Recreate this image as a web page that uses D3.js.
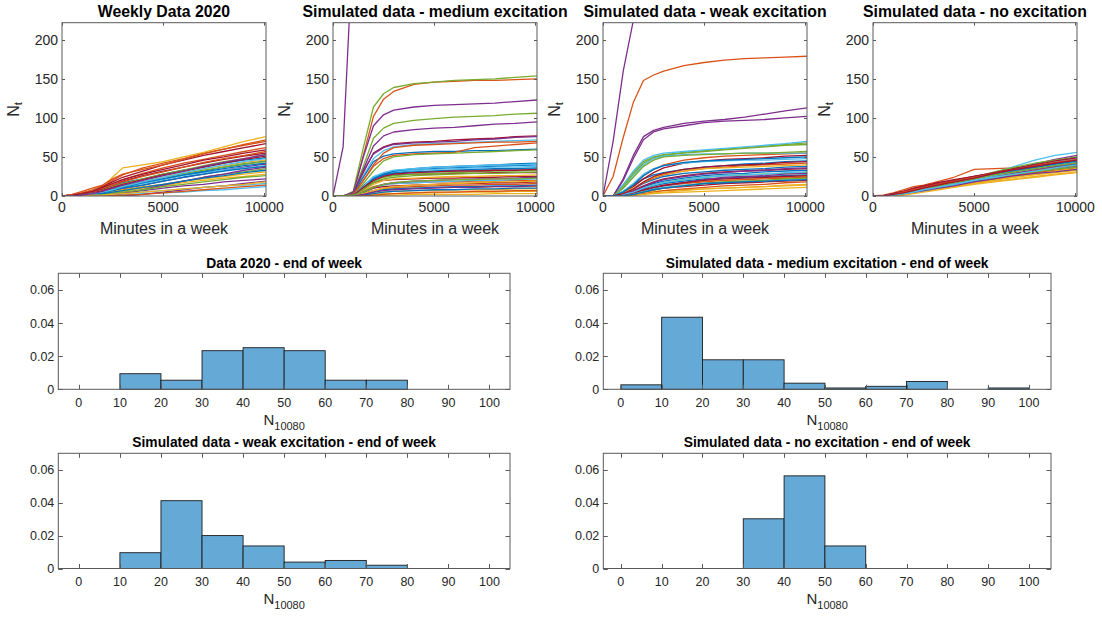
<!DOCTYPE html>
<html>
<head>
<meta charset="utf-8">
<script src="https://cdn.jsdelivr.net/npm/d3@7"></script>
<style>
  html, body { margin: 0; padding: 0; background: #ffffff; }
  svg { display: block; }
</style>
</head>
<body>
<svg id="chart" width="1102" height="619"></svg>
<script>
// ---------------- DATA ----------------
const minutes = [0, 500, 1000, 1500, 2000, 2500, 3000, 4000, 5000, 6000, 7000, 8000, 9000, 10080];

const weeklyData2020 = [
  [0,0,2,4,7,10,13,18,22,27,32,37,41,45],
  [0,1,4,8,13,20,27,36,42,48,55,60,66,72],
  [0,1,3,7,12,24,36,40,44,50,56,63,70,76],
  [0,0,1,2,4,6,9,14,19,24,28,33,37,41],
  [0,0,0,1,3,5,7,11,15,19,24,28,31,35],
  [0,0,0,0,1,1,2,3,4,5,7,8,10,12],
  [0,1,3,6,12,18,24,32,40,46,52,57,62,67],
  [0,0,2,5,9,13,17,22,28,33,37,42,46,49],
  [0,1,4,7,11,16,21,29,36,42,47,52,57,62],
  [0,0,1,2,4,6,8,12,15,19,22,25,28,31],
  [0,0,0,0,0,0,0,2,5,8,11,13,16,19],
  [0,0,2,4,8,12,16,22,28,33,39,44,48,53],
  [0,0,1,3,5,8,11,16,21,26,30,33,36,39],
  [0,1,3,5,9,14,19,26,32,37,42,47,51,55],
  [0,0,1,2,4,7,10,14,19,24,28,32,35,38],
  [0,2,6,10,14,22,28,34,40,47,54,60,65,70],
  [0,0,2,4,7,11,15,21,26,31,35,39,43,46],
  [0,0,0,1,2,3,4,7,10,13,15,18,20,22],
  [0,0,1,3,6,9,13,18,24,29,33,37,41,44],
  [0,0,0,0,1,2,3,5,7,9,11,13,14,16],
  [0,0,2,4,7,11,15,21,27,32,37,42,47,51],
  [0,0,1,3,5,8,11,17,22,27,31,35,39,42],
  [0,1,3,6,10,14,18,25,31,37,43,48,52,57],
  [0,0,0,1,2,4,6,10,13,17,20,23,25,28],
  [0,0,0,0,0,1,3,8,14,19,24,28,33,37],
  [0,0,0,1,2,4,5,8,12,15,18,21,24,26],
  [0,0,1,3,5,8,12,18,24,30,35,40,44,48],
  [0,1,3,6,11,16,21,28,34,40,46,50,55,59],
  [0,0,0,1,3,5,7,11,15,19,23,26,30,33],
  [0,0,0,0,0,0,1,2,4,6,8,10,12,14],
  [0,0,0,1,1,2,3,5,7,9,11,13,15,18],
  [0,0,1,3,6,10,14,20,26,32,38,43,48,53]
];

const mediumExcitation = [
  [0,0,2,12,24,28,30,33,35,36,37,38,39,40],
  [0,0,4,52,102,124,134,143,146,147,148,148,149,150],
  [0,0,0,1,2,3,3,4,4,5,5,5,6,6],
  [0,63,330,420,480,520,550,600,640,670,700,720,740,760],
  [0,0,6,62,114,131,139,144,146,148,149,150,152,154],
  [0,0,3,26,48,58,63,66,67,68,69,70,71,72],
  [0,0,4,30,55,63,67,69,70,72,73,74,76,77],
  [0,0,3,24,44,51,54,56,57,57,58,58,59,60],
  [0,0,2,20,38,48,52,54,55,56,62,64,66,68],
  [0,0,1,4,7,9,10,10,11,11,11,12,12,12],
  [0,0,5,50,90,104,110,114,116,117,118,119,121,123],
  [0,0,4,38,74,87,93,97,99,101,102,103,105,106],
  [0,0,1,13,24,29,31,33,34,35,36,37,37,38],
  [0,0,1,13,22,26,27,28,28,29,29,30,30,30],
  [0,0,1,10,22,28,32,35,37,38,39,40,41,42],
  [0,0,1,6,12,15,16,17,18,18,19,19,20,20],
  [0,0,0,1,3,5,6,7,7,8,8,8,9,9],
  [0,0,3,34,64,77,82,85,87,88,90,92,93,95],
  [0,0,2,16,32,45,50,53,54,55,56,57,58,59],
  [0,0,1,8,18,25,28,30,31,32,33,34,34,35],
  [0,0,1,10,17,20,21,22,23,23,24,24,25,25],
  [0,0,1,12,22,27,29,31,32,33,34,35,35,36],
  [0,0,0,3,7,10,11,12,13,14,14,15,15,16],
  [0,0,1,7,15,20,22,23,24,25,25,26,26,27],
  [0,0,4,32,54,62,66,68,69,70,72,73,75,76],
  [0,0,1,10,19,24,26,28,29,30,31,32,32,33],
  [0,0,0,4,10,14,16,17,18,19,20,20,21,22],
  [0,0,1,5,10,12,13,14,15,16,16,17,17,18],
  [0,0,0,2,5,8,9,10,11,12,12,13,13,14],
  [0,0,2,20,40,55,62,65,66,67,68,69,69,70],
  [0,0,0,0,1,1,1,2,2,2,2,3,3,3],
  [0,0,1,5,11,15,17,19,20,21,22,22,23,24],
  [0,0,1,8,17,22,24,26,27,28,29,29,30,31],
  [0,0,1,12,25,30,33,35,37,38,39,40,40,41],
  [0,0,1,11,20,25,28,30,31,32,32,33,33,34],
  [0,0,0,1,3,5,6,7,8,8,9,9,10,10],
  [0,0,0,0,1,2,3,4,5,5,6,6,7,7],
  [0,0,0,3,7,10,12,14,15,16,17,18,18,19],
  [0,0,0,2,5,7,8,9,10,11,11,12,12,13],
  [0,0,1,5,11,15,17,19,20,21,21,22,22,23]
];

const weakExcitation = [
  [0,0,6,14,22,27,30,34,37,39,41,42,44,45],
  [0,25,75,120,148,155,160,167,171,174,176,177,178,179],
  [0,0,1,3,5,6,7,8,9,10,11,12,13,14],
  [0,70,160,225,280,320,350,400,440,470,500,520,540,560],
  [0,0,14,30,44,50,53,56,58,60,62,64,66,68],
  [0,0,15,32,46,52,55,57,59,61,63,65,67,70],
  [0,0,4,12,22,30,36,42,45,47,48,49,51,52],
  [0,0,3,9,16,21,25,29,31,33,34,35,37,38],
  [0,0,5,14,26,34,40,46,49,51,52,53,54,55],
  [0,0,1,4,8,11,14,17,19,20,21,23,24,25],
  [0,0,22,52,76,84,88,93,96,98,101,105,109,113],
  [0,0,12,28,42,49,52,55,57,59,61,63,65,66],
  [0,0,10,25,40,48,51,53,54,54,55,55,55,55],
  [0,0,1,3,6,8,10,12,14,16,17,18,19,20],
  [0,0,2,6,12,16,19,23,26,28,29,31,32,33],
  [0,0,3,9,17,23,27,32,35,37,39,40,41,42],
  [0,0,0,1,2,3,4,5,6,7,8,9,10,11],
  [0,0,20,48,72,82,86,90,94,96,97,98,100,102],
  [0,0,1,5,10,14,17,21,24,26,27,28,29,30],
  [0,0,6,16,28,35,39,42,44,45,46,46,47,48],
  [0,0,2,7,13,18,22,26,29,31,32,33,34,35],
  [0,0,1,4,9,13,16,19,22,23,24,25,26,27],
  [0,0,1,3,7,10,13,16,18,20,21,22,23,24],
  [0,0,4,10,18,24,28,32,35,36,37,38,39,40],
  [0,0,0,2,6,10,13,17,21,24,25,26,28,29],
  [0,0,10,24,38,46,50,52,53,54,55,55,56,57],
  [0,0,1,3,6,9,11,14,16,18,19,20,21,22],
  [0,0,1,4,8,11,14,17,20,22,23,24,25,26],
  [0,0,5,14,26,34,39,43,45,46,47,48,49,50],
  [0,0,0,1,3,5,7,9,11,13,14,15,17,18],
  [0,0,0,1,2,4,5,7,9,10,11,12,14,15],
  [0,0,2,6,12,17,21,25,28,30,32,33,35,36],
  [0,0,0,2,5,8,10,13,16,18,19,20,22,23],
  [0,0,2,5,10,14,17,21,24,26,27,28,30,31],
  [0,0,3,9,18,25,29,34,37,39,40,41,43,44],
  [0,0,0,2,5,8,10,13,16,17,18,19,20,21]
];

const noExcitation = [
  [0,0,2,4,7,9,12,17,22,27,32,37,41,46],
  [0,1,4,8,12,14,17,24,34,35,36,38,41,44],
  [0,0,1,3,5,7,9,13,16,19,22,25,28,31],
  [0,0,2,4,6,8,11,15,19,24,28,32,36,40],
  [0,0,1,3,5,8,11,16,22,30,36,40,44,47],
  [0,0,2,5,8,11,14,19,24,30,38,46,52,56],
  [0,0,3,6,9,12,15,20,24,28,32,36,40,43],
  [0,0,1,3,5,7,10,14,18,22,26,30,34,38],
  [0,0,2,4,6,9,11,15,19,23,27,30,33,36],
  [0,0,1,2,4,6,8,12,16,20,24,27,30,33],
  [0,0,2,5,8,11,14,19,25,30,35,41,47,52],
  [0,0,1,3,6,9,12,18,24,31,37,42,46,50],
  [0,0,1,3,6,8,11,16,21,27,33,38,44,48],
  [0,0,3,6,10,13,16,21,25,29,34,38,42,45],
  [0,0,1,2,4,6,9,14,19,24,29,33,37,41],
  [0,0,2,5,8,10,13,18,22,26,30,33,36,39],
  [0,0,0,2,4,6,9,13,17,21,25,28,32,35],
  [0,0,1,4,6,9,12,17,21,25,29,34,38,42],
  [0,0,1,3,5,7,10,15,20,24,28,31,34,37],
  [0,0,1,2,4,6,9,14,20,26,31,35,40,44],
  [0,0,2,5,9,12,15,20,25,30,35,40,45,49],
  [0,0,2,4,7,10,13,18,23,28,33,37,41,45],
  [0,0,2,5,8,11,14,19,24,29,34,39,43,47],
  [0,0,0,1,3,5,7,11,15,18,21,24,27,30],
  [0,0,1,3,5,7,9,13,18,22,26,29,31,34],
  [0,0,1,3,6,9,12,17,22,27,31,35,39,42],
  [0,0,1,3,5,8,10,15,20,24,28,32,36,40],
  [0,0,2,4,7,10,13,18,23,29,34,38,42,46]
];

const lineTitles = ["Weekly Data 2020", "Simulated data - medium excitation", "Simulated data - weak excitation", "Simulated data - no excitation"];
const lineXTicks = [0, 5000, 10000];
const lineYTicks = [0, 50, 100, 150, 200];

const histEdges = [0, 10, 20, 30, 40, 50, 60, 70, 80, 90, 100];
const histData2020 = [0, 0.0094, 0.0055, 0.0233, 0.0251, 0.0233, 0.0055, 0.0055, 0, 0];
const histMedium   = [0.0027, 0.0435, 0.0178, 0.0178, 0.0037, 0.0008, 0.0018, 0.0047, 0, 0.0008];
const histWeak     = [0, 0.0096, 0.0412, 0.0200, 0.0137, 0.0039, 0.0049, 0.0020, 0, 0];
const histNone     = [0, 0, 0, 0.0302, 0.0563, 0.0137, 0, 0, 0, 0];
const histTitles = ["Data 2020 - end of week", "Simulated data - medium excitation - end of week",
                    "Simulated data - weak excitation - end of week", "Simulated data - no excitation - end of week"];
const histXTicks = [0, 10, 20, 30, 40, 50, 60, 70, 80, 90, 100];
const histYTicks = [0, 0.02, 0.04, 0.06];

// ---------------- STYLE / LAYOUT ----------------
const FONT = "'Liberation Sans', Arial, Helvetica, sans-serif";
const lineColors = ["#0072BD", "#D95319", "#EDB120", "#7E2F8E", "#77AC30", "#4DBEEE", "#A2142F"];
const axisColor = "#5a5a5a";
const textColor = "#262626";
const barFill = "#65A9D7";

const svg = d3.select("#chart");

function drawBox(g, x0, y0, x1, y1) {
  g.append("rect").attr("x", x0).attr("y", y0).attr("width", x1 - x0).attr("height", y1 - y0)
    .attr("fill", "none").attr("stroke", axisColor).attr("stroke-width", 1);
}

function drawTicks(g, x, y, xTicks, yTicks, tickLen, xFmt, yFmt, xLabelDy, tickFont) {
  const [x0, x1] = x.range();
  const [y1, y0] = y.range();
  xTicks.forEach(t => {
    const px = Math.round(x(t)) + 0.5;
    g.append("line").attr("x1", px).attr("x2", px).attr("y1", y1).attr("y2", y1 - tickLen).attr("stroke", axisColor);
    g.append("line").attr("x1", px).attr("x2", px).attr("y1", y0).attr("y2", y0 + tickLen).attr("stroke", axisColor);
    g.append("text").attr("x", x(t)).attr("y", y1 + xLabelDy).attr("text-anchor", "middle")
      .attr("font-family", FONT).attr("font-size", tickFont).attr("fill", textColor).text(xFmt(t));
  });
  yTicks.forEach(t => {
    const py = Math.round(y(t)) + 0.5;
    g.append("line").attr("x1", x0).attr("x2", x0 + tickLen).attr("y1", py).attr("y2", py).attr("stroke", axisColor);
    g.append("line").attr("x1", x1).attr("x2", x1 - tickLen).attr("y1", py).attr("y2", py).attr("stroke", axisColor);
    g.append("text").attr("x", x0 - 4).attr("y", y(t)).attr("dy", "0.36em").attr("text-anchor", "end")
      .attr("font-family", FONT).attr("font-size", tickFont).attr("fill", textColor).text(yFmt(t));
  });
}

// ---------------- LINE PANELS ----------------
const linePanels = [weeklyData2020, mediumExcitation, weakExcitation, noExcitation];
const lineLefts = [62, 333, 603, 873];
const lineW = 204, lineTop = 22.7, lineBottom = 196;

linePanels.forEach((series, p) => {
  const left = lineLefts[p];
  const x = d3.scaleLinear().domain([0, 10080]).range([left, left + lineW]);
  const y = d3.scaleLinear().domain([0, 222]).range([lineBottom, lineTop]);
  const g = svg.append("g");
  const clipId = "clip" + p;
  svg.append("clipPath").attr("id", clipId).append("rect")
    .attr("x", left).attr("y", lineTop).attr("width", lineW).attr("height", lineBottom - lineTop);
  const line = d3.line().x((d, i) => x(minutes[i])).y(d => y(d));
  const lg = g.append("g").attr("clip-path", `url(#${clipId})`);
  lg.selectAll("path").data(series).join("path")
    .attr("d", line).attr("fill", "none")
    .attr("stroke", (d, i) => lineColors[i % lineColors.length])
    .attr("stroke-width", 1.3).attr("stroke-linejoin", "round");
  drawBox(g, left, lineTop, left + lineW, lineBottom);
  drawTicks(g, x, y, lineXTicks, lineYTicks, 3, d3.format("d"), d3.format("d"), 16, 14);
  // title
  g.append("text").attr("x", left + lineW / 2).attr("y", 17).attr("text-anchor", "middle")
    .attr("font-family", FONT).attr("font-size", 15.8).attr("font-weight", "bold").attr("fill", "#000")
    .text(lineTitles[p]);
  // x label
  g.append("text").attr("x", left + lineW / 2).attr("y", 234).attr("text-anchor", "middle")
    .attr("font-family", FONT).attr("font-size", 16).attr("fill", textColor).text("Minutes in a week");
  // y label N_t
  const yl = g.append("text").attr("transform", `translate(${left - 43},${(lineTop + lineBottom) / 2}) rotate(-90)`)
    .attr("text-anchor", "middle").attr("font-family", FONT).attr("fill", textColor);
  yl.append("tspan").attr("font-size", 16).text("N");
  yl.append("tspan").attr("font-size", 11.5).attr("dy", 3).text("t");
});

// ---------------- HISTOGRAMS ----------------
const histPanels = [
  { data: histData2020, xr: [58.3, 510], yr: [273.3, 389.3], dom: [-5, 105], title: histTitles[0], titleY: 268, labY: 425 },
  { data: histMedium,   xr: [603.3, 1051], yr: [273.3, 389.3], dom: [-4.3, 105.4], title: histTitles[1], titleY: 268, labY: 425 },
  { data: histWeak,     xr: [58.3, 510], yr: [453.3, 568.5], dom: [-5, 105], title: histTitles[2], titleY: 447, labY: 604 },
  { data: histNone,     xr: [603.3, 1051], yr: [453.3, 568.5], dom: [-4.3, 105.4], title: histTitles[3], titleY: 447, labY: 604 }
];

histPanels.forEach(hp => {
  const x = d3.scaleLinear().domain(hp.dom).range(hp.xr);
  const y = d3.scaleLinear().domain([0, 0.07]).range([hp.yr[1], hp.yr[0]]);
  const g = svg.append("g");
  const bins = hp.data.map((v, i) => ({ x0: histEdges[i], x1: histEdges[i + 1], v }))
    .filter(b => b.v > 0);
  g.selectAll("rect.bar").data(bins).join("rect").attr("class", "bar")
    .attr("x", b => x(b.x0)).attr("width", b => x(b.x1) - x(b.x0))
    .attr("y", b => y(b.v)).attr("height", b => y(0) - y(b.v))
    .attr("fill", barFill).attr("stroke", "#1c1c1c").attr("stroke-width", 0.9);
  drawBox(g, hp.xr[0], hp.yr[0], hp.xr[1], hp.yr[1]);
  drawTicks(g, x, y, histXTicks, histYTicks, 4.5, d3.format("d"), t => t === 0 ? "0" : d3.format(".2f")(t), 17.5, 12.5);
  g.append("text").attr("x", (hp.xr[0] + hp.xr[1]) / 2).attr("y", hp.titleY).attr("text-anchor", "middle")
    .attr("font-family", FONT).attr("font-size", 13.8).attr("font-weight", "bold").attr("fill", "#000")
    .text(hp.title);
  const xl = g.append("text").attr("x", (hp.xr[0] + hp.xr[1]) / 2).attr("y", hp.labY).attr("text-anchor", "middle")
    .attr("font-family", FONT).attr("fill", textColor);
  xl.append("tspan").attr("font-size", 15).text("N");
  xl.append("tspan").attr("font-size", 11).attr("dy", 5).text("10080");
});
</script>
</body>
</html>
